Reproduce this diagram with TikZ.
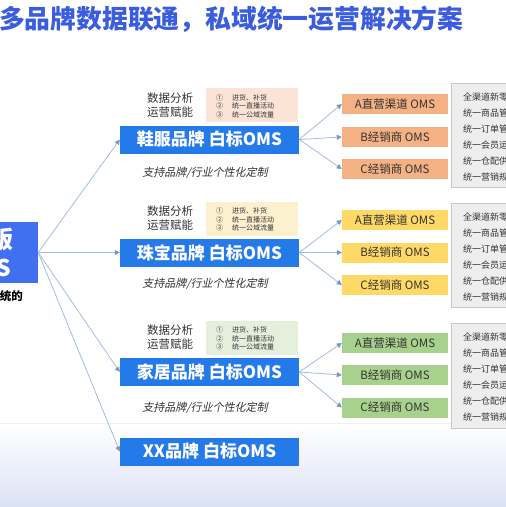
\documentclass[tikz,border=0pt]{standalone}
\usepackage{fontspec}
\setmainfont{Noto Sans CJK SC}
\newfontfamily\cjkit{Noto Sans CJK SC}[FakeSlant=0.22]
\usetikzlibrary{arrows.meta,shadows}
\definecolor{titleblue}{RGB}{58,92,222}
\definecolor{leftblue}{RGB}{64,112,240}
\definecolor{brandblue}{RGB}{36,122,232}
\definecolor{pinkbg}{RGB}{251,228,214}
\definecolor{tanbg}{RGB}{253,240,206}
\definecolor{greenbg}{RGB}{228,240,220}
\definecolor{orangebox}{RGB}{244,177,131}
\definecolor{yellowbox}{RGB}{255,217,102}
\definecolor{greenbox}{RGB}{169,209,142}
\definecolor{graybox}{RGB}{238,238,238}
\definecolor{grayline}{RGB}{200,200,200}
\definecolor{connblue}{RGB}{160,190,222}
\definecolor{tipblue}{RGB}{120,152,190}
\definecolor{bgblue}{RGB}{220,226,246}
\definecolor{txt}{RGB}{51,51,51}
\tikzset{
  brand/.style={fill=brandblue,text=white,minimum width=179pt,minimum height=28pt,inner sep=0pt,font=\fontsize{17}{20}\selectfont\bfseries},
  subbox/.style={minimum width=106pt,minimum height=20pt,inner sep=0pt,text=txt,font=\fontsize{11.5}{13}\selectfont},
  infobox/.style={minimum width=92pt,minimum height=34pt,inner sep=0pt},
  infotext/.style={anchor=west,align=left,text=txt,inner sep=0pt,font=\fontsize{7}{8.6}\selectfont},
  opslabel/.style={align=center,text=txt,inner sep=0pt,font=\fontsize{11.5}{14}\selectfont},
  custom/.style={text=txt,inner sep=0pt,font=\cjkit\fontsize{11}{13}\selectfont},
  grayframe/.style={fill=graybox,draw=grayline,line width=0.6pt,drop shadow={shadow xshift=1pt,shadow yshift=-1pt,opacity=0.25}},
  graytext/.style={anchor=west,align=left,text=txt,inner sep=0pt,font=\fontsize{9}{16}\selectfont},
  conn/.style={draw=connblue,line width=0.8pt,-{Triangle[width=5pt,length=5pt,fill=tipblue,color=tipblue]}}
}
\begin{document}
\begin{tikzpicture}[x=1pt,y=-1pt]
\clip (0,0) rectangle (506,507);
\fill[white] (0,0) rectangle (506,507);
\shade[top color=white,bottom color=bgblue] (0,423) rectangle (506,507);
\draw[line width=0.4pt,black!6] (0,423) -- (506,423);

% title
\node[anchor=west,inner sep=0pt,text=titleblue,font=\fontsize{25.8}{30}\selectfont\bfseries] (title) at (-1,19) {多品牌数据联通，私域统一运营解决方案};

% left box
\node[fill=leftblue,minimum width=58pt,minimum height=61pt,inner sep=0pt] (left) at (9,252.5) {};
\node[anchor=east,inner sep=0pt,text=white,font=\fontsize{24}{28}\selectfont\bfseries] (leftA) at (14,240) {版};
\node[anchor=east,inner sep=0pt,text=white,font=\fontsize{23}{26}\selectfont\bfseries] (leftB) at (11.5,268) {OMS};
\node[anchor=east,inner sep=0pt,text=black,font=\fontsize{11.5}{13}\selectfont\bfseries] (leftC) at (23,296) {系统的};

% brand boxes
\node[brand] (shoe) at (209.5,139.5) {鞋服品牌 白标OMS};
\node[brand] (jewel) at (209.5,252.5) {珠宝品牌 白标OMS};
\node[brand] (home) at (209.5,372) {家居品牌 白标OMS};
\node[brand] (xx) at (209.5,451.5) {XX品牌 白标OMS};

% ops labels
\node[opslabel] (opsShoe) at (170,105) {数据分析\\运营赋能};
\node[opslabel] (opsJewel) at (170,218.5) {数据分析\\运营赋能};
\node[opslabel] (opsHome) at (170,337) {数据分析\\运营赋能};

% info boxes
\node[infobox,fill=pinkbg] (infoShoe) at (252,105) {};
\node[infobox,fill=tanbg] (infoJewel) at (252,218.5) {};
\node[infobox,fill=greenbg] (infoHome) at (252,337.5) {};
\node[infotext] (infoShoeT) at (216,106) {①\hspace{9pt}进货、补货\\②\hspace{9pt}统一直播活动\\③\hspace{9pt}统一公域流量};
\node[infotext] (infoJewelT) at (216,219.5) {①\hspace{9pt}进货、补货\\②\hspace{9pt}统一直播活动\\③\hspace{9pt}统一公域流量};
\node[infotext] (infoHomeT) at (216,338.5) {①\hspace{9pt}进货、补货\\②\hspace{9pt}统一直播活动\\③\hspace{9pt}统一公域流量};

% custom labels
\node[custom] (cusShoe) at (205,173) {支持品牌/行业个性化定制};
\node[custom] (cusJewel) at (205,284) {支持品牌/行业个性化定制};
\node[custom] (cusHome) at (205,408) {支持品牌/行业个性化定制};

% sub boxes
\node[subbox,fill=orangebox] (shoeA) at (395,104) {A直营渠道 OMS};
\node[subbox,fill=orangebox] (shoeB) at (395,137) {B经销商 OMS};
\node[subbox,fill=orangebox] (shoeC) at (395,169) {C经销商 OMS};
\node[subbox,fill=yellowbox] (jewelA) at (395,220) {A直营渠道 OMS};
\node[subbox,fill=yellowbox] (jewelB) at (395,252.5) {B经销商 OMS};
\node[subbox,fill=yellowbox] (jewelC) at (395,285) {C经销商 OMS};
\node[subbox,fill=greenbox] (homeA) at (395,343) {A直营渠道 OMS};
\node[subbox,fill=greenbox] (homeB) at (395,375) {B经销商 OMS};
\node[subbox,fill=greenbox] (homeC) at (395,407.5) {C经销商 OMS};

% gray boxes
\node[grayframe,minimum width=70pt,minimum height=104pt,inner sep=0pt] (grayShoe) at (486,135) {};
\node[grayframe,minimum width=70pt,minimum height=104pt,inner sep=0pt] (grayJewel) at (486,255) {};
\node[grayframe,minimum width=70pt,minimum height=105pt,inner sep=0pt] (grayHome) at (486,375.5) {};
\node[graytext] (grayShoeT) at (463,137) {全渠道新零\\统一商品管\\统一订单管\\统一会员运\\统一仓配供\\统一营销规};
\node[graytext] (grayJewelT) at (463,257) {全渠道新零\\统一商品管\\统一订单管\\统一会员运\\统一仓配供\\统一营销规};
\node[graytext] (grayHomeT) at (463,377.5) {全渠道新零\\统一商品管\\统一订单管\\统一会员运\\统一仓配供\\统一营销规};

% connectors
\draw[conn] (left.east) -- (shoe.west);
\draw[conn] (left.east) -- (jewel.west);
\draw[conn] (left.east) -- (home.west);
\draw[conn] (left.east) -- (xx.west);
\foreach \b in {shoe,jewel,home}{
  \draw[conn] (\b.east) -- (\b A.west);
  \draw[conn] (\b.east) -- (\b B.west);
  \draw[conn] (\b.east) -- (\b C.west);
}
\end{tikzpicture}
\end{document}
